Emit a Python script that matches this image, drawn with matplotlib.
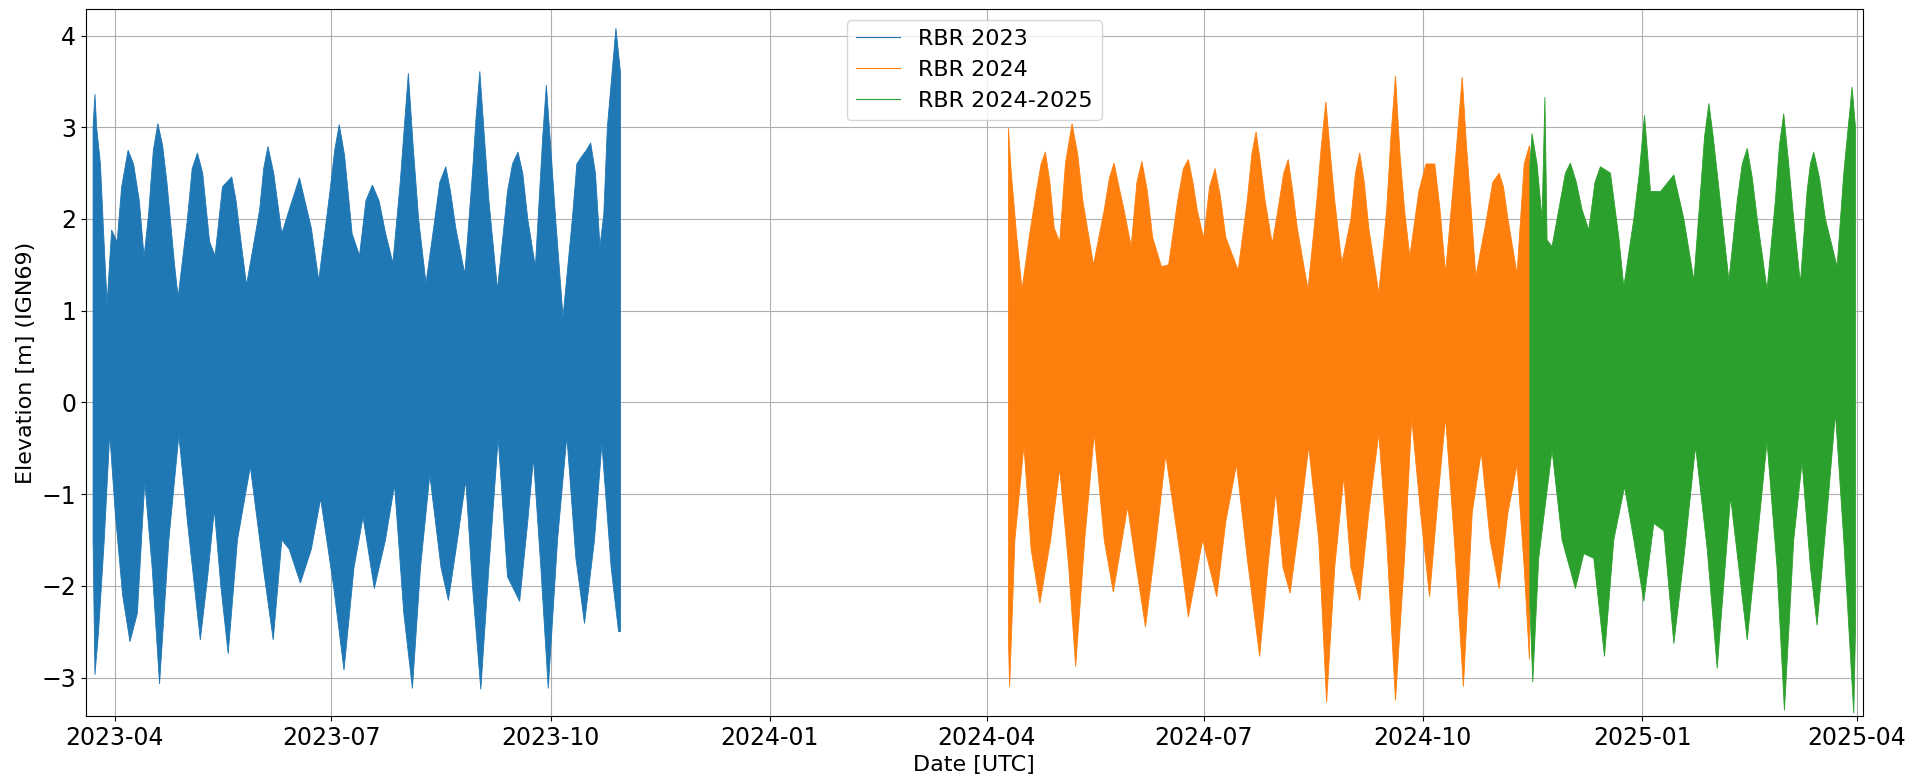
import matplotlib
matplotlib.use("Agg")
import matplotlib.pyplot as plt
import matplotlib.dates as mdates
from matplotlib.lines import Line2D
import pandas as pd

# Tide envelopes: day offsets from a reference date, elevation in m (IGN69)
rbr23_ref = "2023-04-01"
rbr23_hi_days = [-9.0, -8.2, -7.5, -5.9, -4.3, -3.1, -1.2, 1.1, 3.0, 5.7, 8.0, 10.4, 12.4, 14.3, 16.3,
                 18.2, 20.2, 22.0, 25.2, 26.7, 30.6, 32.6, 34.8, 37.0, 39.9, 42.2, 45.3, 49.2, 51.0, 53.1,
                 55.4, 60.9, 62.6, 64.4, 66.8, 70.2, 73.3, 77.6, 82.6, 85.7, 90.4, 92.4, 94.3, 96.5, 99.7,
                 102.8, 105.5, 108.2, 111.0, 113.7, 116.8, 119.9, 121.6, 123.3, 125.3, 127.6, 130.7, 133.9, 136.5, 139.0,
                 141.0, 143.2, 147.0, 150.2, 151.7, 153.3, 155.2, 157.1, 160.7, 164.9, 167.0, 169.3, 171.3, 173.4, 176.6,
                 179.7, 181.2, 183.0, 185.1, 188.2, 192.1, 194.0, 196.0, 198.0, 199.8, 201.8, 203.7, 205.3, 206.8, 210.4,
                 212.3]
rbr23_hi = [3.0, 3.36, 3.0, 2.6, 1.7, 1.08, 1.88, 1.75, 2.35, 2.75, 2.6, 2.2, 1.59, 2.05, 2.75,
            3.04, 2.8, 2.4, 1.5, 1.15, 2.0, 2.55, 2.72, 2.5, 1.75, 1.6, 2.35, 2.46, 2.2, 1.75,
            1.28, 2.1, 2.55, 2.79, 2.5, 1.84, 2.1, 2.45, 1.9, 1.33, 2.3, 2.75, 3.03, 2.7, 1.84,
            1.6, 2.2, 2.37, 2.2, 1.85, 1.52, 2.4, 3.0, 3.59, 2.8, 2.0, 1.3, 1.9, 2.4, 2.57,
            2.3, 1.9, 1.4, 2.5, 3.1, 3.61, 2.9, 2.2, 1.23, 2.3, 2.6, 2.73, 2.5, 2.0, 1.48,
            2.9, 3.46, 2.8, 2.0, 0.93, 2.0, 2.6, 2.68, 2.75, 2.83, 2.5, 1.7, 2.05, 3.0, 4.08,
            3.6]
rbr23_lo_days = [-9.0, -8.2, -6.7, -4.3, -2.0, 0.3, 3.4, 6.5, 9.6, 12.7, 15.8, 18.9, 22.8, 27.0, 30.6,
                 36.0, 39.1, 41.9, 44.6, 47.7, 51.6, 57.0, 62.4, 66.6, 70.2, 73.3, 78.0, 82.6, 86.5, 91.9,
                 96.3, 100.5, 104.3, 109.0, 113.7, 117.5, 121.4, 125.0, 128.4, 132.3, 137.0, 140.1, 143.9, 147.4, 150.2,
                 153.7, 157.1, 161.0, 164.9, 170.0, 173.4, 175.8, 178.9, 182.0, 185.9, 189.8, 193.6, 197.2, 201.4, 204.5,
                 208.4, 211.5, 212.3]
rbr23_lo = [-1.5, -2.97, -2.5, -1.5, -0.34, -1.2, -2.1, -2.61, -2.3, -0.87, -1.8, -3.07, -1.5, -0.36, -1.3,
            -2.59, -1.9, -1.17, -2.0, -2.74, -1.5, -0.70, -1.8, -2.59, -1.5, -1.6, -1.97, -1.6, -1.05, -2.0,
            -2.92, -1.8, -1.25, -2.03, -1.5, -0.90, -2.3, -3.12, -1.8, -0.79, -1.8, -2.16, -1.5, -0.85, -2.0,
            -3.13, -1.8, -0.39, -1.9, -2.17, -1.3, -0.61, -1.8, -3.12, -1.5, -0.37, -1.7, -2.41, -1.5, -0.45,
            -1.8, -2.50, -2.5]

rbr24_ref = "2024-07-01"
rbr24_hi_days = [-81.9, -80.7, -78.4, -76.2, -73.2, -70.2, -68.2, -66.4, -64.5, -62.7, -60.4, -58.0, -55.2, -52.8, -50.7,
                 -46.2, -41.7, -39.5, -37.6, -35.5, -33.4, -30.4, -28.0, -25.9, -23.6, -21.4, -17.7, -14.7, -10.9, -8.5,
                 -6.4, -4.5, -2.7, 0.0, 2.5, 4.8, 7.0, 9.3, 14.5, 18.3, 20.2, 22.0, 23.9, 25.8, 28.8,
                 31.8, 33.6, 35.5, 37.4, 39.3, 43.8, 47.5, 49.4, 51.3, 53.2, 55.0, 58.0, 61.8, 63.7, 65.5,
                 67.4, 69.3, 73.5, 76.8, 78.6, 80.5, 82.4, 84.3, 86.5, 90.3, 93.3, 97.0, 99.2, 101.5, 105.2,
                 106.8, 108.5, 110.3, 112.0, 114.2, 118.7, 121.3, 124.0, 125.8, 127.7, 131.5, 134.5, 136.7]
rbr24_hi = [2.99, 2.5, 1.8, 1.23, 1.8, 2.3, 2.6, 2.73, 2.4, 1.9, 1.75, 2.6, 3.04, 2.7, 2.2,
            1.5, 2.1, 2.45, 2.61, 2.35, 2.1, 1.7, 2.4, 2.63, 2.3, 1.8, 1.48, 1.5, 2.2, 2.55,
            2.65, 2.4, 2.1, 1.79, 2.35, 2.55, 2.25, 1.8, 1.44, 2.2, 2.7, 2.95, 2.6, 2.2, 1.73,
            2.2, 2.5, 2.65, 2.3, 1.9, 1.23, 2.2, 2.8, 3.28, 2.7, 2.2, 1.52, 2.0, 2.5, 2.72,
            2.4, 1.9, 1.19, 2.1, 2.9, 3.56, 2.7, 2.1, 1.59, 2.3, 2.6, 2.6, 2.1, 1.41, 2.5,
            3.0, 3.55, 2.8, 2.2, 1.37, 2.0, 2.4, 2.5, 2.35, 2.0, 1.4, 2.6, 2.8]
rbr24_lo_days = [-81.9, -81.4, -79.2, -75.4, -72.4, -68.7, -64.2, -60.4, -56.6, -53.7, -49.9, -45.9, -41.7, -37.9, -31.9,
                 -28.2, -24.4, -19.9, -15.9, -10.2, -6.4, -0.4, 5.5, 9.3, 13.8, 18.3, 23.5, 27.3, 30.3, 33.3,
                 36.3, 40.8, 44.1, 48.3, 51.6, 55.0, 58.8, 61.8, 65.5, 69.3, 73.5, 76.8, 80.5, 84.3, 87.3,
                 91.0, 94.8, 98.5, 101.5, 105.2, 109.0, 112.7, 116.5, 120.2, 124.0, 127.7, 131.5, 134.5, 136.7]
rbr24_lo = [-2.6, -3.10, -1.5, -0.47, -1.6, -2.19, -1.5, -0.72, -1.8, -2.88, -1.5, -0.34, -1.5, -2.07, -1.14,
            -1.8, -2.45, -1.5, -0.57, -1.6, -2.34, -1.50, -2.12, -1.3, -0.68, -1.7, -2.77, -1.7, -0.97, -1.8,
            -2.08, -1.2, -0.48, -1.5, -3.27, -1.8, -0.81, -1.8, -2.16, -1.2, -0.34, -1.5, -3.25, -1.7, -0.17,
            -1.2, -2.12, -1.0, -0.17, -1.5, -3.10, -1.2, -0.54, -1.5, -2.03, -1.2, -0.68, -1.8, -2.8]

rbr2425_ref = "2025-01-01"
rbr2425_hi_days = [-47.1, -46.2, -44.1, -42.0, -40.8, -39.9, -37.8, -34.3, -32.2, -30.1, -27.6, -25.2, -22.4, -19.8, -17.5,
                   -13.3, -9.8, -7.7, -3.5, -1.2, 1.0, 3.5, 7.7, 13.3, 17.5, 21.7, 24.5, 26.2, 28.0, 29.8,
                   31.5, 36.4, 39.9, 42.0, 44.1, 46.2, 48.3, 52.4, 55.9, 57.6, 59.4, 61.5, 63.6, 66.4, 69.2,
                   70.6, 72.0, 74.4, 76.9, 81.8, 84.6, 88.1, 89.5]
rbr2425_hi = [2.6, 2.93, 2.6, 2.0, 3.33, 1.77, 1.7, 2.2, 2.5, 2.61, 2.4, 2.1, 1.88, 2.4, 2.57,
              2.5, 1.8, 1.26, 2.0, 2.5, 3.13, 2.3, 2.3, 2.48, 2.0, 1.33, 2.3, 2.9, 3.26, 2.9,
              2.5, 1.33, 2.2, 2.6, 2.77, 2.45, 2.0, 1.23, 2.2, 2.8, 3.15, 2.6, 2.0, 1.30, 2.3,
              2.6, 2.73, 2.45, 2.0, 1.48, 2.5, 3.44, 3.0]
rbr2425_lo_days = [-47.1, -45.9, -43.4, -37.8, -33.6, -28.0, -24.5, -20.3, -15.8, -11.9, -7.4, -3.5, 0.7, 4.9, 9.1,
                   13.3, 17.5, 22.4, 27.3, 31.5, 37.1, 44.1, 48.3, 52.4, 56.6, 59.7, 63.6, 67.1, 70.6, 73.4,
                   77.6, 81.1, 84.6, 88.8, 89.5]
rbr2425_lo = [-2.2, -3.05, -1.7, -0.52, -1.5, -2.03, -1.65, -1.7, -2.77, -1.5, -0.92, -1.5, -2.17, -1.32, -1.4,
              -2.63, -1.7, -0.48, -1.6, -2.90, -1.03, -2.59, -1.5, -0.43, -1.8, -3.36, -1.5, -0.65, -1.8, -2.43,
              -1.2, -0.12, -1.5, -3.39, -2.5]

labels = ["RBR 2023", "RBR 2024", "RBR 2024-2025"]
colors = ["#1f77b4", "#ff7f0e", "#2ca02c"]


def outline(ref, hi_days, hi, lo_days, lo):
    # closed polygon: high-water envelope forward, low-water envelope back
    t0 = pd.Timestamp(ref)
    days = list(hi_days) + list(lo_days)[::-1]
    t = [t0 + pd.Timedelta(days=d) for d in days]
    return mdates.date2num(t), list(hi) + list(lo)[::-1]


series = [
    (rbr23_ref, rbr23_hi_days, rbr23_hi, rbr23_lo_days, rbr23_lo),
    (rbr24_ref, rbr24_hi_days, rbr24_hi, rbr24_lo_days, rbr24_lo),
    (rbr2425_ref, rbr2425_hi_days, rbr2425_hi, rbr2425_lo_days, rbr2425_lo),
]

fig = plt.figure(figsize=(19.09, 7.76), dpi=100)
ax = fig.add_axes([0.045, 0.0773, 0.9308, 0.9111])

for s, c in zip(series, colors):
    x, y = outline(*s)
    ax.fill(x, y, color=c, lw=0.6, zorder=2)

ax.set_xlim(pd.Timestamp("2023-03-20"), pd.Timestamp("2025-04-03 14:00"))
ax.set_ylim(-3.42, 4.29)
ax.xaxis.set_major_locator(mdates.MonthLocator(bymonth=[1, 4, 7, 10]))
ax.xaxis.set_major_formatter(mdates.DateFormatter("%Y-%m"))
ax.tick_params(labelsize=17)
ax.grid(True, zorder=0)
ax.set_axisbelow(True)

ax.set_xlabel("Date [UTC]", fontsize=16)
ax.set_ylabel("Elevation [m] (IGN69)", fontsize=16)

handles = [Line2D([], [], color=c, lw=0.8) for c in colors]
ax.legend(handles, labels, loc="upper center", fontsize=16)

fig.savefig("out.png", dpi=100)
